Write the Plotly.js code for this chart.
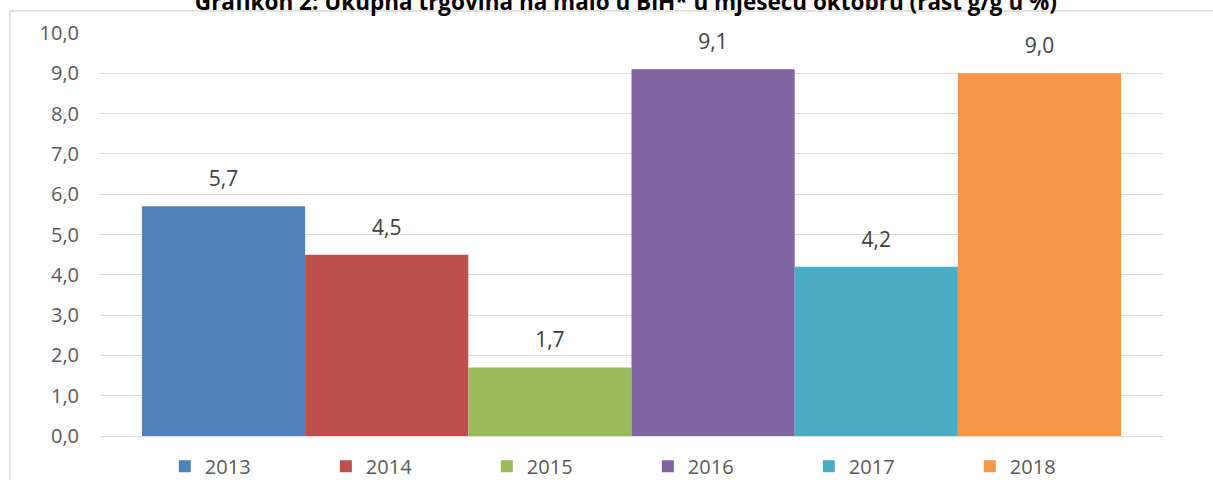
<!DOCTYPE html>
<html>
<head>
<meta charset="utf-8">
<script src="https://cdn.plot.ly/plotly-3.0.1.min.js"></script>
<style>html,body{margin:0;padding:0;background:#fff}#chart{width:1213px;height:480px}</style>
</head>
<body>
<div id="chart"></div>
<script>
const years = ['2013', '2014', '2015', '2016', '2017', '2018'];
const values = [5.7, 4.5, 1.7, 9.1, 4.2, 9.0];
const colors = ['#4f81bd', '#c0504d', '#9bbb59', '#8064a2', '#4bacc6', '#f79646'];
const yTicks = [0, 1, 2, 3, 4, 5, 6, 7, 8, 9, 10];
const titleText = 'Grafikon 2: Ukupna trgovina na malo u BiH* u mjesecu oktobru (rast g/g u %)';

const font = 'Open Sans, sans-serif';
const positions = years.map((_, i) => i);

const traces = years.map((y, i) => ({
  type: 'bar',
  name: y,
  x: [positions[i]],
  y: [values[i]],
  width: 1,
  marker: {color: colors[i], line: {width: 0}},
  hoverinfo: 'skip'
}));

traces.push({
  type: 'scatter',
  mode: 'markers+text',
  x: positions,
  y: values,
  text: values.map(v => v.toFixed(1).replace('.', ',')),
  textposition: 'top center',
  marker: {size: 22, color: 'rgba(0,0,0,0)'},
  textfont: {family: font, size: 21, color: '#404040'},
  cliponaxis: false,
  showlegend: false,
  hoverinfo: 'skip'
});

const layout = {
  width: 1213, height: 480,
  margin: {l: 100, r: 50, t: 33, b: 44, autoexpand: false},
  paper_bgcolor: '#ffffff', plot_bgcolor: '#ffffff',
  separators: ',.',
  barmode: 'overlay',
  title: {
    text: '<b>' + titleText + '</b>',
    font: {family: font, size: 22.5, color: '#000000'},
    xref: 'container', yref: 'container',
    x: 0.516, xanchor: 'center',
    y: 0.996, yanchor: 'middle',
    automargin: false
  },
  xaxis: {
    range: [-0.757, 5.757],
    showticklabels: false, showgrid: false, zeroline: false,
    showline: false, ticks: ''
  },
  yaxis: {
    range: [0, 10], tickvals: yTicks, tickformat: '.1f',
    showgrid: true, gridcolor: '#d9d9d9', gridwidth: 1,
    zeroline: true, zerolinecolor: '#d9d9d9', zerolinewidth: 1,
    showline: false, ticks: '', ticklabelstandoff: 20,
    tickfont: {family: font, size: 20, color: '#595959'}
  },
  showlegend: true,
  legend: {
    orientation: 'h',
    x: 0.061, xanchor: 'left',
    y: -0.075, yanchor: 'middle',
    entrywidth: 116, entrywidthmode: 'pixels',
    font: {family: font, size: 20, color: '#595959'},
    bgcolor: 'rgba(0,0,0,0)'
  },
  shapes: [{
    type: 'rect', xref: 'paper', yref: 'paper',
    x0: -0.0847, x1: 1.3, y0: -0.3, y1: 1.0546,
    line: {color: '#d9d9d9', width: 1.5}, fillcolor: 'rgba(0,0,0,0)',
    layer: 'below'
  }]
};

Plotly.newPlot('chart', traces, layout, {displayModeBar: false, staticPlot: true});
</script>
</body>
</html>
